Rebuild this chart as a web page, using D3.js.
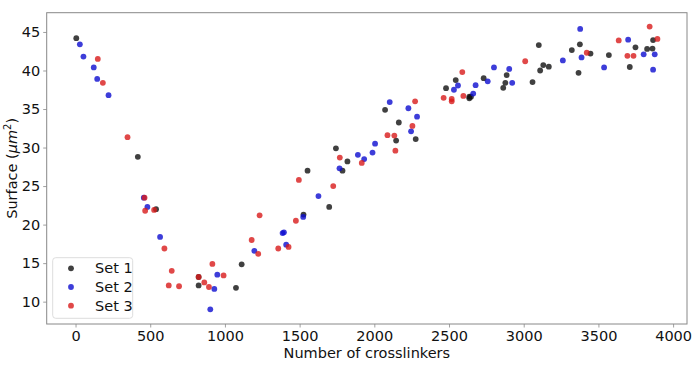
<!DOCTYPE html>
<html><head><meta charset="utf-8">
<script src="https://d3js.org/d3.v7.min.js"></script>
<style>body{margin:0;background:#fff;} svg{display:block;font-family:"DejaVu Sans",sans-serif;}</style>
</head><body>
<script>
const xTicks = [0,500,1000,1500,2000,2500,3000,3500,4000];
const yTicks = [10,15,20,25,30,35,40,45];
const seriesNames = ["Set 1","Set 2","Set 3"];
const set1X = [5,417,539,824,824,1074,1112,1526,1553,1698,1743,1787,1820,2072,2164,2146,2277,2480,2545,2636,2647,2636,2732,2863,2877,2886,3059,3101,3110,3131,3168,3322,3376,3367,3447,3570,3710,3748,3826,3862,3866];
const set1Y = [44.2,28.8,22.0,13.2,12.1,11.8,14.85,21.3,27.0,22.3,29.9,27.0,28.2,34.9,33.25,30.9,31.1,37.7,38.75,36.6,36.6,36.4,39.0,37.75,38.4,39.4,38.5,43.3,40.0,40.7,40.5,42.65,43.4,39.7,42.2,42.0,40.45,43.0,42.8,42.85,43.95];
const set2X = [29,53,122,145,221,457,481,566,902,929,949,1197,1386,1395,1410,1524,1626,1767,1890,1932,1988,2005,2103,2228,2246,2286,2533,2560,2662,2678,2759,2801,2903,2923,3262,3378,3387,3538,3699,3803,3877,3866];
const set2Y = [43.4,41.8,40.4,38.9,36.8,23.5,22.3,18.4,9.0,11.65,13.5,16.6,18.9,19.0,17.4,21.0,23.7,27.3,29.05,28.5,29.35,30.5,35.9,35.1,32.1,34.0,37.5,38.05,37.0,38.1,38.6,40.4,40.2,38.4,41.3,45.4,41.7,40.4,44.0,42.1,42.1,40.1];
const set3X = [149,183,348,462,466,526,595,644,624,693,824,862,893,916,991,1179,1223,1232,1357,1426,1475,1495,1725,1769,1916,2088,2134,2141,2255,2273,2464,2518,2518,2589,2596,3010,3422,3636,3694,3735,3843,3895];
const set3Y = [41.5,38.4,31.35,23.5,21.8,21.9,16.9,14.0,12.1,12.0,13.2,12.5,11.9,14.9,13.4,18.0,16.2,21.2,16.9,17.1,20.5,25.8,25.0,28.7,28.0,31.6,31.55,29.6,32.8,36.0,36.45,36.3,36.0,39.8,36.7,41.2,42.3,43.9,41.9,41.9,45.7,44.1];

const W=695,H=368;
const L=46.7,R=687,T=12.7,B=324;
const svg=d3.select("body").append("svg").attr("width",W).attr("height",H);
const x=d3.scaleLinear().domain([-193,4093]).range([L,R]);
const y=d3.scaleLinear().domain([7.1,47.5]).range([B,T]);

const series=[
  {name:seriesNames[0],xs:set1X,ys:set1Y,color:"#101010"},
  {name:seriesNames[1],xs:set2X,ys:set2Y,color:"#0c0ccf"},
  {name:seriesNames[2],xs:set3X,ys:set3Y,color:"#d81a1a"}
];

series.forEach(s=>{
  svg.append("g").selectAll("circle").data(s.xs.map((v,i)=>[v,s.ys[i]])).join("circle")
    .attr("cx",d=>x(d[0])).attr("cy",d=>y(d[1])).attr("r",2.9)
    .attr("fill",s.color).attr("fill-opacity",0.8);
});

const gx=svg.append("g").attr("transform",`translate(0,${B})`)
  .call(d3.axisBottom(x).tickValues(xTicks).tickFormat(d3.format("d")).tickSize(3.5).tickPadding(3));
const gy=svg.append("g").attr("transform",`translate(${L},0)`)
  .call(d3.axisLeft(y).tickValues(yTicks).tickFormat(d3.format("d")).tickSize(3.5).tickPadding(3));
[gx,gy].forEach(g=>{
  g.select(".domain").remove();
  g.selectAll(".tick line").attr("stroke","#888").attr("stroke-width",0.8);
  g.selectAll(".tick text").attr("font-size",14.5).attr("fill","#111").attr("font-family","DejaVu Sans");
});

svg.append("rect").attr("x",L).attr("y",T).attr("width",R-L).attr("height",B-T)
  .attr("fill","none").attr("stroke","#888").attr("stroke-width",1);

svg.append("text").attr("x",(L+R)/2).attr("y",358).attr("text-anchor","middle")
  .attr("font-size",14.5).attr("fill","#111").text("Number of crosslinkers");

const yl=svg.append("text").attr("transform",`translate(17,${(T+B)/2}) rotate(-90)`)
  .attr("text-anchor","middle").attr("font-size",14.5).attr("fill","#111");
yl.append("tspan").text("Surface (");
yl.append("tspan").attr("font-style","italic").text("μm");
yl.append("tspan").attr("font-size",10).attr("dy",-6).text("2");
yl.append("tspan").attr("dy",6).text(")");

const lg=svg.append("g");
lg.append("rect").attr("x",52.7).attr("y",257.7).attr("width",80).attr("height",60.6)
  .attr("rx",3).attr("fill","#fff").attr("fill-opacity",0.8).attr("stroke","#ddd").attr("stroke-width",1);
series.forEach((s,i)=>{
  const cy=268.3+i*18.7;
  lg.append("circle").attr("cx",71).attr("cy",cy).attr("r",2.9).attr("fill",s.color).attr("fill-opacity",0.8);
  lg.append("text").attr("x",95).attr("y",cy+5).attr("font-size",14.5).attr("fill","#111").text(s.name);
});
</script>
</body></html>
